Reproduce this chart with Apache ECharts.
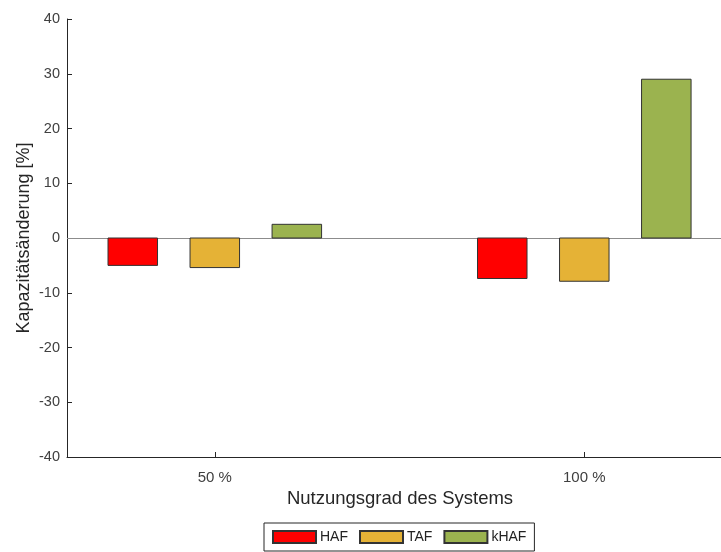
<!DOCTYPE html>
<html>
<head>
<meta charset="utf-8">
<script src="https://cdn.jsdelivr.net/npm/echarts@6/dist/echarts.min.js"></script>
<style>
  html, body { margin: 0; padding: 0; background: #fff; }
  #chart { width: 721px; height: 552px; }
</style>
</head>
<body>
<div id="chart"></div>
<script>
// Kapazitätsänderung je Nutzungsgrad, gruppiert nach Verfahren
const categories = ['50 %', '100 %'];
const seriesNames = ['HAF', 'TAF', 'kHAF'];
const hafValues = [-5.0, -7.4];
const tafValues = [-5.4, -7.9];
const khafValues = [2.5, 29.0];
const yTicks = [-40, -30, -20, -10, 0, 10, 20, 30, 40];

const colors = ['#ff0000', '#e5b236', '#9bb34f'];
const groupOffsets = [-0.222, 0, 0.222];
const halfBar = 0.067;

function barRenderer(offset) {
  return function (params, api) {
    const x = api.value(0) + offset;
    const v = api.value(1);
    const p0 = api.coord([x - halfBar, 0]);
    const p1 = api.coord([x + halfBar, v]);
    return {
      type: 'rect',
      shape: {
        x: p0[0],
        y: Math.min(p0[1], p1[1]),
        width: p1[0] - p0[0],
        height: Math.abs(p1[1] - p0[1])
      },
      style: api.style()
    };
  };
}

const valueSets = [hafValues, tafValues, khafValues];
const series = seriesNames.map(function (name, i) {
  const s = {
    name: name,
    type: 'custom',
    renderItem: barRenderer(groupOffsets[i]),
    itemStyle: { color: colors[i], borderColor: '#333', borderWidth: 1 },
    encode: { x: 0, y: 1 },
    data: valueSets[i].map(function (v, k) { return [k + 1, v]; }),
    z: 3
  };
  if (i === 0) {
    s.markLine = {
      silent: true,
      symbol: 'none',
      label: { show: false },
      lineStyle: { color: '#8c8c8c', width: 1, type: 'solid' },
      data: [{ yAxis: 0 }],
      z: 2
    };
  }
  return s;
});

const font = 'Liberation Sans, Arial, sans-serif';
const axisColor = '#262626';
const textColor = '#404040';

const chart = echarts.init(document.getElementById('chart'), null, { renderer: 'canvas' });
chart.setOption({
  animation: false,
  backgroundColor: '#fff',
  grid: { left: 67, top: 19, right: 0, bottom: 95, containLabel: false },
  legend: {
    data: seriesNames,
    bottom: 1,
    left: 264,
    icon: 'rect',
    itemWidth: 43,
    itemHeight: 12,
    itemGap: 11,
    padding: [7, 8, 7, 8],
    borderColor: '#262626',
    borderWidth: 1,
    backgroundColor: '#fff',
    textStyle: { fontFamily: font, fontSize: 14, color: '#222', padding: [0, 0, 0, -1] }
  },
  xAxis: {
    type: 'value',
    min: 0.6,
    max: 2.37,
    name: 'Nutzungsgrad des Systems',
    nameLocation: 'middle',
    nameGap: 25,
    nameTextStyle: { fontFamily: font, fontSize: 18.5, color: '#262626', padding: [0, 0, 0, 12] },
    axisLine: { show: true, onZero: false, lineStyle: { color: axisColor, width: 1 } },
    axisTick: { show: true, inside: true, length: 5, customValues: [1, 2], lineStyle: { color: axisColor } },
    axisLabel: {
      customValues: [1, 2],
      margin: 13,
      fontFamily: font,
      fontSize: 15,
      color: textColor,
      formatter: function (v) { return categories[Math.round(v) - 1] || ''; }
    },
    splitLine: { show: false }
  },
  yAxis: {
    type: 'value',
    min: yTicks[0],
    max: yTicks[yTicks.length - 1],
    interval: 10,
    name: 'Kapazitätsänderung [%]',
    nameLocation: 'middle',
    nameGap: 34,
    nameMoveOverlap: false,
    nameTextStyle: { fontFamily: font, fontSize: 18, color: '#262626' },
    axisLine: { show: true, onZero: false, lineStyle: { color: axisColor, width: 1 } },
    axisTick: { show: true, inside: true, length: 5, lineStyle: { color: axisColor } },
    axisLabel: { margin: 7, fontFamily: font, fontSize: 14.5, color: textColor },
    splitLine: { show: false }
  },
  series: series
});
</script>
</body>
</html>
